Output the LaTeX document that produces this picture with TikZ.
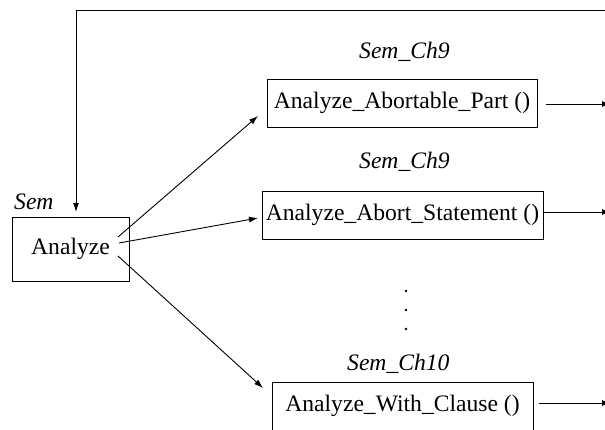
\documentclass[tikz,border=0pt]{standalone}
\usepackage{fontspec}
\setmainfont{LiberationSerif}[Extension=.ttf, UprightFont=*-Regular, ItalicFont=*-Italic, BoldFont=*-Bold]
\usetikzlibrary{arrows.meta}
\begin{document}
\begin{tikzpicture}[x=1pt,y=-1pt,
  every node/.style={font=\rmfamily\fontsize{23.6}{28}\selectfont, inner sep=0pt},
  procbox/.style={draw, line width=1pt, rectangle, minimum height=48pt},
  unitlabel/.style={font=\rmfamily\itshape\fontsize{23.6}{28}\selectfont, anchor=west},
  call/.style={line width=0.9pt, -{Latex[length=9pt,width=6pt]}},
  outcall/.style={line width=0.9pt, -{Latex[length=8pt,width=6pt]}}]
  \useasboundingbox (0,0) rectangle (605,429);
  \clip (0,0) rectangle (605,429);

  % caller
  \node[procbox, minimum width=117pt, minimum height=64pt] (ana) at (70.5,249) {\raisebox{5pt}{Analyze}};
  \node[unitlabel] (semlbl) at (14,202) {Sem};

  % callees
  \node[procbox, minimum width=270pt] (p1) at (402,103) {Analyze\_Abortable\_Part ()};
  \node[unitlabel] (l1) at (359,52) {Sem\_Ch9};

  \node[procbox, minimum width=281pt] (p2) at (402.5,215) {\raisebox{2pt}{Analyze\_Abort\_Statement ()}};
  \node[unitlabel] (l2) at (359,162) {Sem\_Ch9};

  \node[procbox, minimum width=261pt] (p3) at (402.5,406) {\raisebox{3pt}{Analyze\_With\_Clause ()}};
  \node[unitlabel] (l3) at (347,364) {Sem\_Ch10};

  % elided callees
  \foreach \y in {291,310,329}
    \fill (406,\y) circle (1.3pt);

  % calls from Analyze
  \coordinate (s1) at (118,237);
  \coordinate (s2) at (119,243);
  \coordinate (s3) at (118,256);
  \coordinate (e1) at (258,116);
  \coordinate (e2) at (258,218);
  \coordinate (e3) at (263,388);
  \draw[call] (s1) -- (e1);
  \draw[call] (s2) -- (e2);
  \draw[call] (s3) -- (e3);

  % outgoing calls on the right
  \coordinate (o1) at (610,104);
  \coordinate (o2) at (610,212);
  \coordinate (o3) at (610,403);
  \draw[outcall] ([xshift=8pt]p1.east |- o1) -- (o1);
  \draw[outcall] (p2.east |- o2) -- (o2);
  \draw[outcall] ([xshift=5pt]p3.east |- o3) -- (o3);

  % recursive re-entry into Analyze
  \coordinate (topright) at (606,10);
  \coordinate (corner) at (76,10);
  \coordinate (entry) at (76,212);
  \draw[call] (topright) -- (corner) -- (entry);
\end{tikzpicture}
\end{document}
